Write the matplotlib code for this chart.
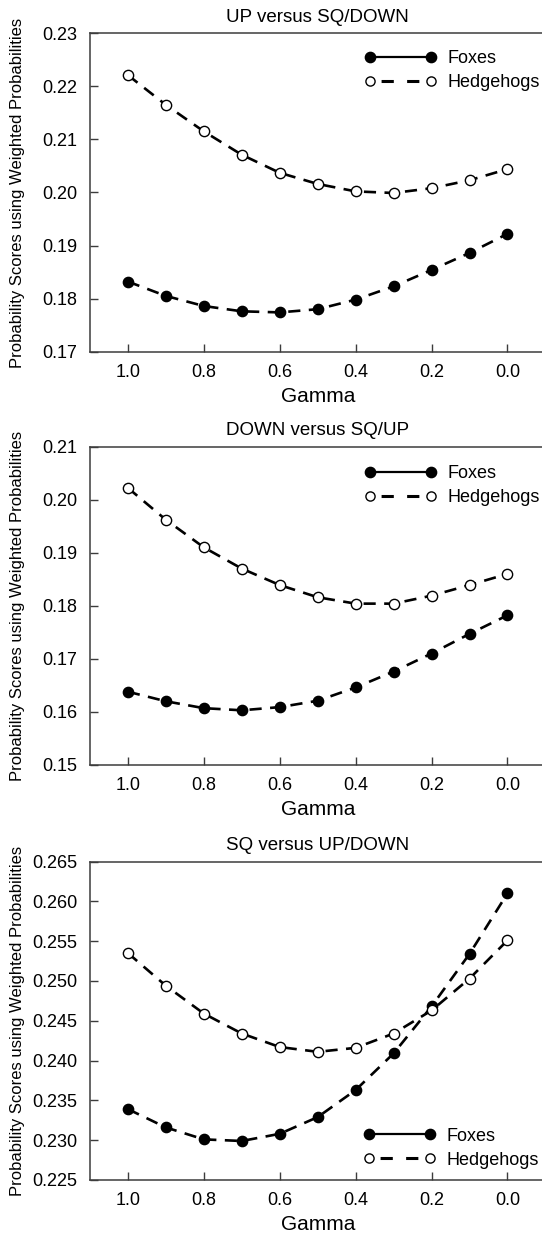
import numpy as np
import matplotlib
matplotlib.use("Agg")
import matplotlib.pyplot as plt
from matplotlib.lines import Line2D

plt.rcParams['font.family'] = ['Liberation Sans', 'DejaVu Sans']

# values
gamma = [1.0, 0.9, 0.8, 0.7, 0.6, 0.5, 0.4, 0.3, 0.2, 0.1, 0.0]
gamma_ticks = [1.0, 0.8, 0.6, 0.4, 0.2, 0.0]

titles = ["UP versus SQ/DOWN", "DOWN versus SQ/UP", "SQ versus UP/DOWN"]

up_foxes = [0.1832, 0.1805, 0.1786, 0.1776, 0.1774, 0.1780, 0.1798, 0.1823, 0.1854, 0.1886, 0.1922]
up_hedgehogs = [0.2221, 0.2165, 0.2115, 0.2071, 0.2037, 0.2016, 0.2002, 0.1999, 0.2008, 0.2023, 0.2044]
down_foxes = [0.1638, 0.1620, 0.1607, 0.1603, 0.1609, 0.1621, 0.1646, 0.1676, 0.1710, 0.1747, 0.1782]
down_hedgehogs = [0.2022, 0.1962, 0.1910, 0.1870, 0.1839, 0.1816, 0.1804, 0.1804, 0.1819, 0.1839, 0.1860]
sq_foxes = [0.2339, 0.2316, 0.2301, 0.2299, 0.2308, 0.2329, 0.2363, 0.2409, 0.2468, 0.2534, 0.2610]
sq_hedgehogs = [0.2535, 0.2494, 0.2459, 0.2434, 0.2417, 0.2411, 0.2416, 0.2434, 0.2463, 0.2503, 0.2551]

up_yticks = [0.17, 0.18, 0.19, 0.20, 0.21, 0.22, 0.23]
down_yticks = [0.15, 0.16, 0.17, 0.18, 0.19, 0.20, 0.21]
sq_yticks = [0.225, 0.230, 0.235, 0.240, 0.245, 0.250, 0.255, 0.260, 0.265]

panels = [
    (titles[0], up_foxes, up_hedgehogs, up_yticks, "%.2f"),
    (titles[1], down_foxes, down_hedgehogs, down_yticks, "%.2f"),
    (titles[2], sq_foxes, sq_hedgehogs, sq_yticks, "%.3f"),
]

fig = plt.figure(figsize=(5.42, 12.33), dpi=100)

ax_left = 90 / 542
ax_w = 455.4 / 542
ax_h = 318.4 / 1233
bottoms = [0.7148, 0.3796, 0.0430]
leg_pos = [("upper left", (0.603, 0.946)),
           ("upper left", (0.603, 0.941)),
           ("lower left", (0.600, 0.036))]

spine_col = "#3c3c3c"
dash = (0, (4.6, 3.2))

for i, (title, fox, hedge, yt, fmt) in enumerate(panels):
    ax = fig.add_axes([ax_left, bottoms[i], ax_w, ax_h])
    ax.plot(gamma, fox, color="black", lw=1.9, linestyle=dash,
            marker="o", ms=7.4, mfc="black", mec="black", mew=1.0)
    ax.plot(gamma, hedge, color="black", lw=1.9, linestyle=dash,
            marker="o", ms=7.4, mfc="white", mec="black", mew=1.0)

    ax.set_xlim(1.1, -0.1)
    ax.set_ylim(yt[0], yt[-1])
    ax.set_xticks(gamma_ticks)
    ax.set_xticklabels(["%.1f" % g for g in gamma_ticks])
    ax.set_yticks(yt)
    ax.set_yticklabels([fmt % v for v in yt])
    ax.tick_params(axis="both", direction="in", length=6, width=1.0,
                   color=spine_col, labelsize=13)
    ax.tick_params(axis="y", pad=9)
    ax.tick_params(axis="x", pad=9)
    for s in ax.spines.values():
        s.set_color(spine_col)
        s.set_linewidth(1.1)

    ax.set_title(title, fontsize=13.5, pad=8)
    ax.set_xlabel("Gamma", fontsize=15, labelpad=4)
    ax.set_ylabel("Probability Scores using Weighted Probabilities", fontsize=12)
    ax.yaxis.set_label_coords(-0.142, 0.5)

    h_fox = Line2D([], [], color="black", lw=1.6, linestyle="-",
                   marker="o", ms=7.4, mfc="black", mec="black")
    h_hedge = Line2D([], [], color="black", lw=2.2, linestyle=(4.73, (4.0, 4.36)),
                     marker="o", ms=6.6, mfc="white", mec="black", mew=1.0)
    loc, anchor = leg_pos[i]
    ax.legend([h_fox, h_hedge], ["Foxes", "Hedgehogs"], loc=loc,
              bbox_to_anchor=anchor, frameon=False, fontsize=13,
              handlelength=3.98, handletextpad=0.62, labelspacing=0.38,
              borderpad=0, borderaxespad=0, numpoints=2)

fig.savefig("out.png", dpi=100)
